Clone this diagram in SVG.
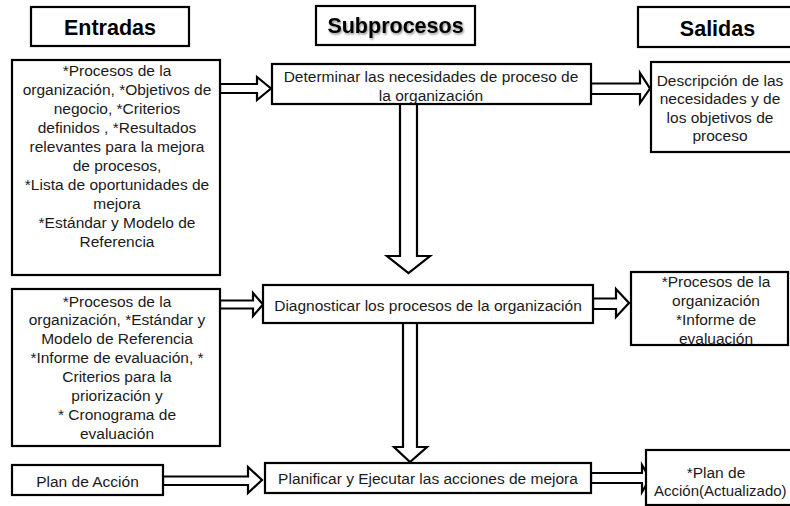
<svg xmlns="http://www.w3.org/2000/svg" width="790" height="506" viewBox="0 0 790 506">
<defs>
<style>
.box{fill:#fff;stroke:#000;stroke-width:2.2}
.arr{fill:#fff;stroke:#000;stroke-width:2.2;stroke-linejoin:miter}
.t{font-family:"Liberation Sans",Arial,sans-serif;font-size:15.5px;fill:#1a1a1a;text-anchor:middle}
.h{font-family:"Liberation Sans",Arial,sans-serif;font-size:21.5px;font-weight:bold;fill:#000;text-anchor:middle}
</style>
<filter id="sh" x="-10%" y="-30%" width="120%" height="160%">
<feDropShadow dx="1" dy="1.5" stdDeviation="1" flood-color="#000" flood-opacity="0.45"/>
</filter>
</defs>
<rect width="790" height="506" fill="#fff"/>

<g id="connectors">
<polygon class="arr" points="220,84 257,84 257,77 271,88.5 257,100 257,93 220,93"/>
<polygon class="arr" points="591,83.5 640,83.5 640,73 650,88.5 640,103 640,94 591,94"/>
<polygon class="arr" points="400,104 417,104 417,256 430,256 408.5,273 387,256 400,256"/>
<polygon class="arr" points="220,300.5 253,300.5 253,293 263,304.5 253,316 253,308.5 220,308.5"/>
<polygon class="arr" points="593,298.5 616,298.5 616,289 629,303 616,317 616,309 593,309"/>
<polygon class="arr" points="403,323 417,323 417,447 427,447 410,462 394,447 403,447"/>
<polygon class="arr" points="163,476.5 248,476.5 248,467 262,480 248,493 248,485 163,485"/>
<polygon class="arr" points="591,473 642,473 642,465 650,478.5 642,492 642,483 591,483"/>
</g>

<g id="hdr-entradas">
<rect class="box" x="31" y="7" width="158" height="39"/>
<text class="h" x="110" y="35">Entradas</text>
</g>
<g id="hdr-subprocesos">
<rect class="box" x="316" y="6" width="159" height="39"/>
<text class="h" x="395.5" y="33" filter="url(#sh)">Subprocesos</text>
</g>
<g id="hdr-salidas">
<rect class="box" x="638" y="7" width="160" height="40"/>
<text class="h" x="717.5" y="36">Salidas</text>
</g>

<g id="entrada1">
<rect class="box" x="12" y="60" width="208" height="215"/>
<text class="t" x="117" y="75.5">*Procesos de la</text>
<text class="t" x="117" y="94.6">organización, *Objetivos de</text>
<text class="t" x="117" y="113.7">negocio, *Criterios</text>
<text class="t" x="117" y="132.8">definidos , *Resultados</text>
<text class="t" x="117" y="151.9">relevantes para la mejora</text>
<text class="t" x="117" y="171">de procesos,</text>
<text class="t" x="117" y="190.1">*Lista de oportunidades de</text>
<text class="t" x="117" y="209.2">mejora</text>
<text class="t" x="117" y="228.3">*Estándar y Modelo de</text>
<text class="t" x="117" y="247.4">Referencia</text>
</g>

<g id="determinar">
<rect class="box" x="272" y="64" width="319" height="40"/>
<text class="t" x="431" y="81.5">Determinar las necesidades de proceso de</text>
<text class="t" x="431" y="100.5">la organización</text>
</g>

<g id="salida1">
<rect class="box" x="651" y="62" width="145" height="90"/>
<text class="t" x="720" y="85.5">Descripción de las</text>
<text class="t" x="720" y="104">necesidades y de</text>
<text class="t" x="720" y="122.5">los objetivos de</text>
<text class="t" x="720" y="141">proceso</text>
</g>

<g id="entrada2">
<rect class="box" x="12" y="289" width="208" height="157"/>
<text class="t" x="117" y="306.5">*Procesos de la</text>
<text class="t" x="117" y="325.4">organización, *Estándar y</text>
<text class="t" x="117" y="344.3">Modelo de Referencia</text>
<text class="t" x="117" y="363.2">*Informe de evaluación, *</text>
<text class="t" x="117" y="382.1">Criterios para la</text>
<text class="t" x="117" y="401">priorización y</text>
<text class="t" x="117" y="419.9">* Cronograma de</text>
<text class="t" x="117" y="438.8">evaluación</text>
</g>

<g id="diagnosticar">
<rect class="box" x="263" y="285" width="330" height="38"/>
<text class="t" x="428" y="310.5">Diagnosticar los procesos de la organización</text>
</g>

<g id="salida2">
<rect class="box" x="631" y="272" width="157" height="73"/>
<text class="t" x="716" y="286.5">*Procesos de la</text>
<text class="t" x="716" y="306">organización</text>
<text class="t" x="716" y="325">*Informe de</text>
<text class="t" x="716" y="343.5">evaluación</text>
</g>

<g id="plan-accion">
<rect class="box" x="12" y="465" width="151" height="30"/>
<text class="t" x="87.5" y="486.5">Plan de Acción</text>
</g>

<g id="planificar">
<rect class="box" x="265" y="463" width="326" height="30"/>
<text class="t" x="428" y="483.5">Planificar y Ejecutar las acciones de mejora</text>
</g>

<g id="salida3">
<rect class="box" x="646" y="450" width="150" height="55"/>
<text class="t" x="716" y="477.5">*Plan de</text>
<text class="t" x="654" y="495.5" style="text-anchor:start;font-size:15px">Acción(Actualizado)</text>
</g>
</svg>
